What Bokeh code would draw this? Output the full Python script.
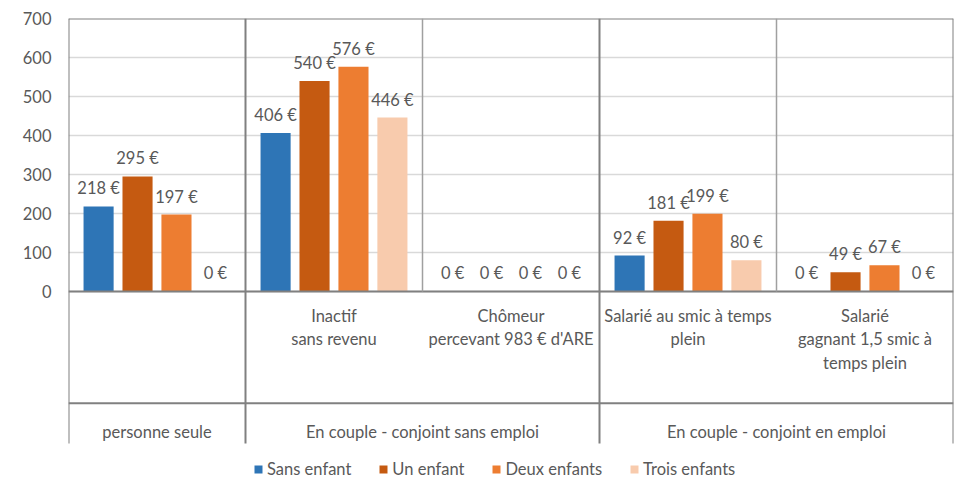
import numpy as np
from bokeh.plotting import figure
from bokeh.models import Range1d, FixedTicker, ColumnDataSource, Legend, LegendItem
from bokeh.core.properties import value
from bokeh.embed import file_html
from bokeh.resources import INLINE

# ---- data ----
subcategories = ["", "Inactif\nsans revenu", "Chômeur\npercevant 983 € d'ARE",
                 "Salarié au smic à temps\nplein", "Salarié\ngagnant 1,5 smic à\ntemps plein"]
groups = ["personne seule", "En couple - conjoint sans emploi", "En couple - conjoint en emploi"]
group_of = [0, 1, 1, 2, 2]
series = ["Sans enfant", "Un enfant", "Deux enfants", "Trois enfants"]
sans_enfant = [218, 406, 0, 92, 0]
un_enfant = [295, 540, 0, 181, 49]
deux_enfants = [197, 576, 0, 199, 67]
trois_enfants = [0, 446, 0, 80, 0]
colors = ["#2E75B6", "#C55A11", "#ED7D31", "#F8CBAD"]
y_ticks = [0, 100, 200, 300, 400, 500, 600, 700]

FONT = "Lato"
FS = "16.5px"
TXT = "#595959"
LINE = "#808080"

values = [sans_enfant, un_enfant, deux_enfants, trois_enfants]
n = len(subcategories)
xc = np.arange(n)

p = figure(width=954, height=489, output_backend="svg", toolbar_location=None,
           x_range=Range1d(-0.5, n - 0.5), y_range=Range1d(-503, 700),
           min_border_left=68, min_border_right=1, min_border_top=18, min_border_bottom=2)
p.outline_line_color = None
p.xaxis.visible = False
p.xgrid.grid_line_color = None
p.ygrid.grid_line_color = "#d9d9d9"
p.ygrid.grid_line_width = 1.5
p.yaxis.ticker = FixedTicker(ticks=y_ticks)
p.yaxis.axis_line_color = None
p.yaxis.major_tick_line_color = None
p.yaxis.minor_tick_line_color = None
p.yaxis.major_tick_out = 0
p.yaxis.major_label_standoff = 17
p.yaxis.major_label_text_font = FONT
p.yaxis.major_label_text_font_size = FS
p.yaxis.major_label_text_color = TXT

offsets = [-0.33, -0.11, 0.11, 0.33]
legend_items = []
for i, (name, vals, col) in enumerate(zip(series, values, colors)):
    src = ColumnDataSource(dict(x=xc + offsets[i], top=vals,
                                lab=[f"{v} €" for v in vals]))
    r = p.vbar(x="x", top="top", width=0.17, bottom=0, source=src,
               fill_color=col, line_color=None)
    p.text(x="x", y="top", text="lab", source=src, text_align="center",
           text_baseline="middle", y_offset=-18, text_font=value(FONT),
           text_font_size=FS, text_color=TXT)
    legend_items.append(LegendItem(label=name, renderers=[r]))

# frame / separators
p.segment(x0=[-0.5], y0=[700], x1=[n - 0.5], y1=[700], line_color=LINE, line_width=2)
p.segment(x0=[-0.5], y0=[0], x1=[n - 0.5], y1=[0], line_color=LINE, line_width=2)
p.segment(x0=[-0.5], y0=[-287], x1=[n - 0.5], y1=[-287], line_color=LINE, line_width=2)
bounds = [-0.5] + [i + 0.5 for i in range(n - 1) if group_of[i] != group_of[i + 1]] + [n - 0.5]
inner = [i + 0.5 for i in range(n - 1) if group_of[i] == group_of[i + 1]]
p.segment(x0=bounds, y0=[700] * len(bounds), x1=bounds, y1=[-390] * len(bounds),
          line_color=LINE, line_width=2)
p.segment(x0=inner, y0=[700] * len(inner), x1=inner, y1=[0] * len(inner),
          line_color="#a0a0a0", line_width=1.5)

# category labels
p.text(x=xc, y=[-37] * n, text=subcategories, text_align="center", text_baseline="top",
       text_font=value(FONT), text_font_size=FS, text_color=TXT, text_line_height=1.17)
gcent = [float(np.mean([i for i in range(n) if group_of[i] == g])) for g in range(len(groups))]
p.text(x=gcent, y=[-361] * len(groups), text=groups, text_align="center",
       text_baseline="middle", text_font=value(FONT), text_font_size=FS, text_color=TXT)

legend = Legend(items=legend_items, orientation="horizontal", location=(185, 8),
                label_text_font=FONT, label_text_font_size=FS, label_text_color=TXT,
                glyph_width=10, glyph_height=10, spacing=27, label_standoff=4,
                background_fill_alpha=0, border_line_color=None, padding=0, margin=0)
p.add_layout(legend, "center")

open("out.html", "w").write(file_html(p, INLINE))
